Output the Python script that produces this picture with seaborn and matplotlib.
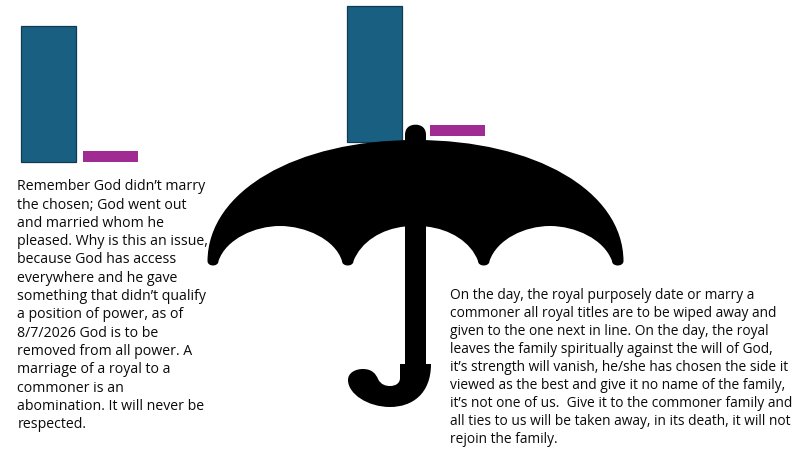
import matplotlib
matplotlib.use("Agg")
import matplotlib.pyplot as plt
from matplotlib.path import Path
from matplotlib.patches import PathPatch
import seaborn as sns

W, H = 809, 456

# bar values
left_cats = ["a", "b"]
left_vals = [136, 11]
right_vals = [136, 11]
teal = "#195f82"
teal_edge = "#0e3a52"
purple = "#a02b93"

left_text = [
    "Remember God didn’t marry",
    "the chosen; God went out",
    "and married whom he",
    "pleased. Why is this an issue,",
    "because God has access",
    "everywhere and he gave",
    "something that didn’t qualify",
    "a position of power, as of",
    "8/7/2026 God is to be",
    "removed from all power. A",
    "marriage of a royal to a",
    "commoner is an",
    "abomination. It will never be",
    "respected.",
]
right_text = [
    "On the day, the royal purposely date or marry a",
    "commoner all royal titles are to be wiped away and",
    "given to the one next in line. On the day, the royal",
    "leaves the family spiritually against the will of God,",
    "it’s strength will vanish, he/she has chosen the side it",
    "viewed as the best and give it no name of the family,",
    "it’s not one of us.  Give it to the commoner family and",
    "all ties to us will be taken away, in its death, it will not",
    "rejoin the family.",
]

sns.set_theme(style="white")
plt.rcParams["font.family"] = ["Open Sans", "DejaVu Sans"]

fig = plt.figure(figsize=(W / 100, H / 100), dpi=100, facecolor="white")


def px_axes(x0, x1, top, base):
    # axes placed by pixel box, y axis runs in pixels above the baseline
    ax = fig.add_axes([x0 / W, 1 - base / H, (x1 - x0) / W, (base - top) / H])
    ax.axis("off")
    return ax


def bars(ax, cats, vals, colors, edges, width):
    sns.barplot(x=cats, y=vals, hue=cats, palette=colors, width=width,
                legend=False, ax=ax, saturation=1, edgecolor="none")
    for patch, edge in zip(ax.patches, edges):
        patch.set_edgecolor(edge)
        patch.set_linewidth(0.9)
    ax.set_xlim(-0.5, len(cats) - 0.5)
    ax.set_ylim(0, max(vals))
    ax.axis("off")
    for patch in ax.patches:
        patch.set_clip_on(False)


# left pair of bars
ax1 = px_axes(17.5, 141.5, 26.5, 162.7)
bars(ax1, left_cats, left_vals, [teal, purple], [teal_edge, "none"], 55 / 62)

# right pair, the purple one sits a bit higher than the teal one
ax2 = px_axes(347.3, 401.7, 6.5, 142.7)
bars(ax2, ["a"], right_vals[:1], [teal], [teal_edge], 1)
ax3 = px_axes(430, 485, 126, 136.8)
bars(ax3, ["b"], right_vals[1:], [purple], ["none"], 1)

# overlay in pixel coordinates for the umbrella icon and the text
ov = fig.add_axes([0, 0, 1, 1], zorder=5)
ov.set_xlim(0, W)
ov.set_ylim(H, 0)
ov.axis("off")
ov.patch.set_alpha(0)

M, L, C, Z = Path.MOVETO, Path.LINETO, Path.CURVE4, Path.CLOSEPOLY
verts = [(207.5, 262)]
codes = [M]


def curve(a, b, c):
    verts.extend([a, b, c])
    codes.extend([C, C, C])


# canopy top edge
curve((208, 192), (296, 141), (415.5, 141))
curve((535, 141), (623, 192), (623.5, 262))
# tips and scallops, right to left
curve((623.5, 268), (612, 268), (612, 262))
curve((604, 240), (575, 227), (550, 227))
curve((525, 227), (497, 240), (489.5, 262))
curve((489.5, 268), (478, 268), (478, 262))
curve((471, 243), (450, 230), (426, 227.5))
# stem down to handle
verts.append((426, 365)); codes.append(L)
verts.append((431, 365)); codes.append(L)
curve((431, 395), (412, 408), (390, 408))
curve((368, 408), (348, 395), (348, 381))
curve((348, 374), (355, 370), (363, 370))
curve((372, 370), (376, 375), (378, 380))
curve((381, 386), (386, 387), (390, 387))
curve((396, 387), (400, 384), (400, 379))
verts.append((400, 365)); codes.append(L)
verts.append((405, 365)); codes.append(L)
verts.append((405, 227.5)); codes.append(L)
curve((381, 230), (361, 243), (353.5, 262))
curve((353.5, 268), (342, 268), (342, 262))
curve((335, 240), (305, 227), (280, 227))
curve((255, 227), (226, 240), (218.5, 262))
curve((218.5, 268), (207.5, 268), (207.5, 262))
verts.append((207.5, 262)); codes.append(Z)
ov.add_patch(PathPatch(Path(verts, codes), facecolor="black", edgecolor="none"))

# knob on top of the stem
knob = [(405, 145), (405, 136), (405, 129), (409.5, 125.7), (415.5, 125.7),
        (421.5, 125.7), (426, 129), (426, 136), (426, 145), (405, 145)]
ov.add_patch(PathPatch(Path(knob, [M, L, C, C, C, C, C, C, L, Z]),
                       facecolor="black", edgecolor="none"))

for i, line in enumerate(left_text):
    ov.text(17.5, 190.3 + i * 18.3, line, fontsize=10.15, color="#0a0a0a",
            va="baseline", ha="left")
for i, line in enumerate(right_text):
    ov.text(450, 298.7 + i * 18.1, line, fontsize=9.9, color="#0a0a0a",
            va="baseline", ha="left")

fig.savefig("out.png", dpi=100, facecolor="white")
